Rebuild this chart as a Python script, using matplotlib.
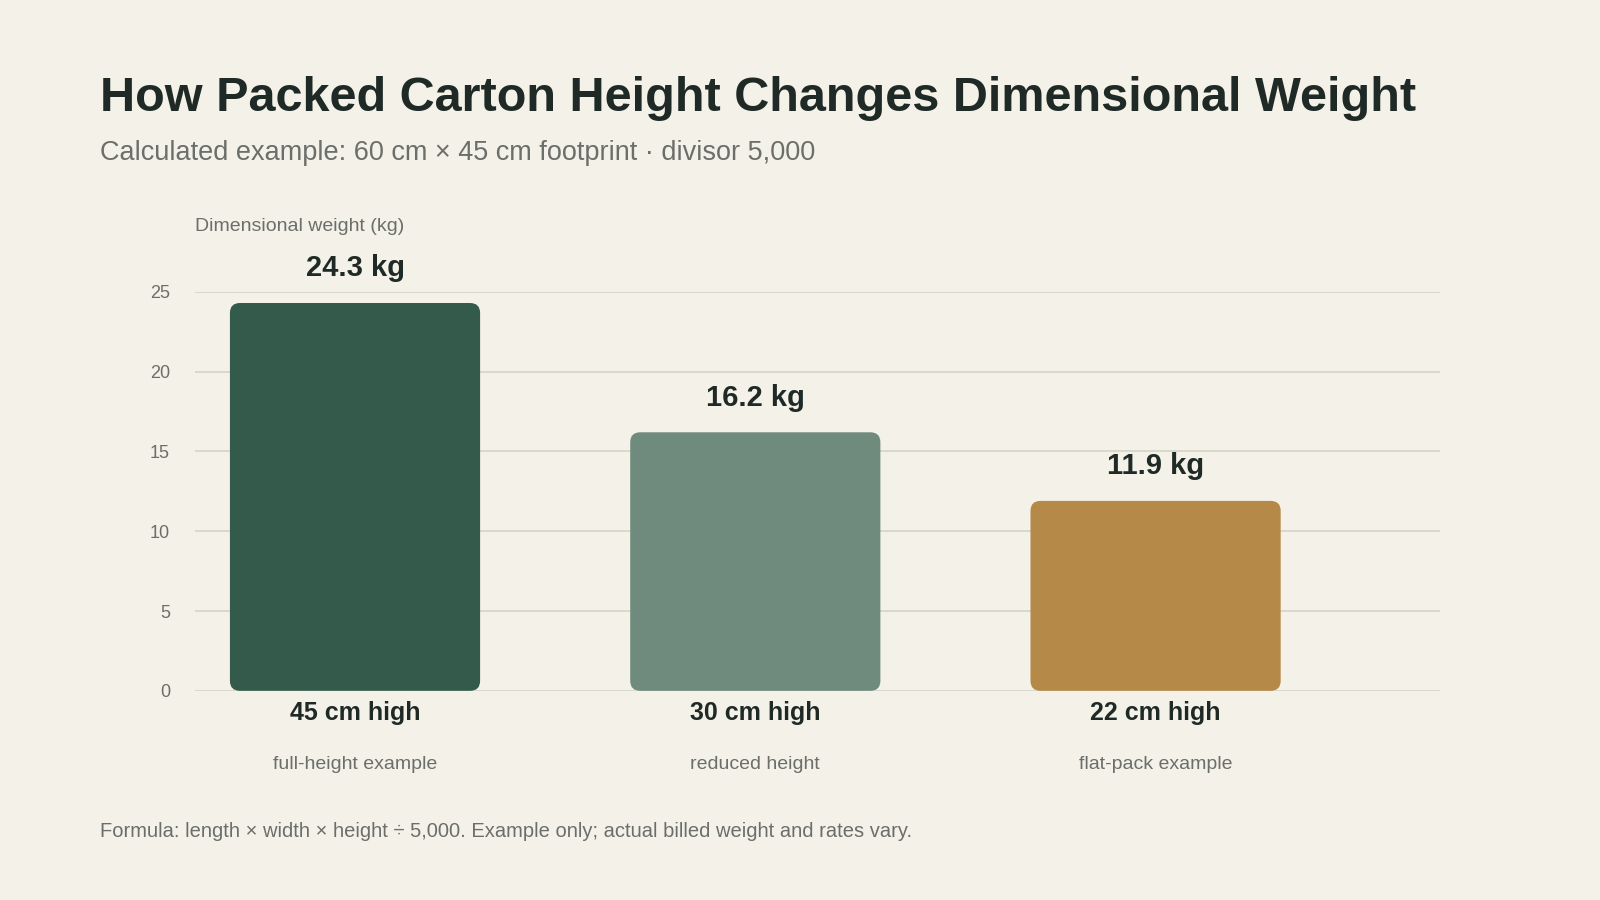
import matplotlib
matplotlib.use("Agg")
import matplotlib.pyplot as plt
from matplotlib.patches import FancyBboxPatch

heights = ["45 cm high", "30 cm high", "22 cm high"]
notes = ["full-height example", "reduced height", "flat-pack example"]
values = [24.3, 16.2, 11.9]
colors = ["#335a4b", "#6e8b7e", "#b58947"]
yticks = [0, 5, 10, 15, 20, 25]

plt.rcParams['font.family'] = ['Liberation Sans', 'DejaVu Sans']
BG = "#f4f1e8"; DARK = "#1f2a26"; GRAY = "#6b6f6a"
W, H = 1568, 882
fig = plt.figure(figsize=(16, 9), dpi=100, facecolor=BG)
ax = fig.add_axes([191/W, 1-677/H, (1411-191)/W, (677-286)/H], facecolor=BG)
ax.set_xlim(-0.40, 2.71)
ax.set_ylim(0, 25)
for s in ax.spines.values():
    s.set_visible(False)
ax.set_yticks(yticks)
ax.set_yticklabels([str(t) for t in yticks], fontsize=13, color=GRAY)
ax.tick_params(axis='y', length=0, pad=18)
ax.set_xticks([])
ax.grid(axis='y', color="#d6d6c8", linewidth=1.3)
ax.set_axisbelow(True)

bw = 0.625
for i, (v, c) in enumerate(zip(values, colors)):
    p = FancyBboxPatch((i - bw/2, 0), bw, v,
                       boxstyle="round,pad=0,rounding_size=0.025",
                       mutation_aspect=25, facecolor=c, edgecolor='none', zorder=3)
    ax.add_patch(p)
    ax.text(i, v + 1.3, f"{v} kg", ha='center', va='bottom', fontsize=21,
            fontweight='bold', color=DARK, clip_on=False)
    ax.text(i, -1.4, heights[i], ha='center', va='center', fontsize=18,
            fontweight='bold', color=DARK, clip_on=False)
    ax.text(i, -4.6, notes[i], ha='center', va='center', fontsize=14,
            color=GRAY, clip_on=False)

fig.text(191/W, 1-222/H, "Dimensional weight (kg)", fontsize=14, color=GRAY, va='center')
fig.text(98/W, 1-97/H, "How Packed Carton Height Changes Dimensional Weight",
         fontsize=35, fontweight='bold', color=DARK, va='center')
fig.text(98/W, 1-150/H, "Calculated example: 60 cm × 45 cm footprint · divisor 5,000",
         fontsize=19.5, color=GRAY, va='center')
fig.text(98/W, 1-815/H, "Formula: length × width × height ÷ 5,000. Example only; actual billed weight and rates vary.",
         fontsize=14.5, color=GRAY, va='center')
fig.savefig("out.png", dpi=100, facecolor=BG)
